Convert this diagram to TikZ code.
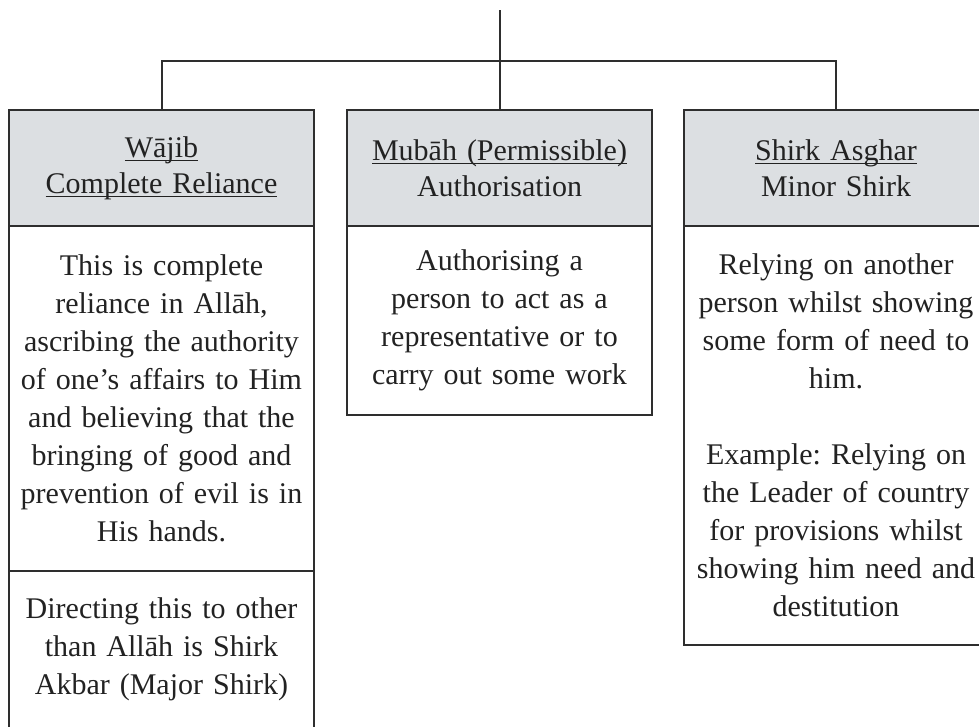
\documentclass[tikz,border=0pt]{standalone}
\usepackage{fontspec}
\setmainfont{Liberation Serif}
\usetikzlibrary{positioning}
\frenchspacing

\definecolor{boxline}{HTML}{2E2E2E}
\definecolor{headfill}{HTML}{DCDFE2}
\definecolor{inktext}{HTML}{222222}

% underline sitting just under the baseline
\newsavebox{\ulbox}
\newcommand{\ulabel}[1]{\leavevmode\sbox{\ulbox}{#1}\rlap{\rule[-4pt]{\wd\ulbox}{1.5pt}}\usebox{\ulbox}}

\begin{document}
\begin{tikzpicture}[x=1pt, y=-1pt,
    headbox/.style={draw=boxline, line width=2pt, fill=headfill, outer sep=0pt, inner sep=10pt,
        minimum width=305pt, minimum height=116pt, text width=285pt, align=center,
        text=inktext, font=\fontsize{30}{36}\selectfont},
    bodybox/.style={draw=boxline, line width=2pt, outer sep=0pt, inner sep=10pt,
        minimum width=305pt, text width=285pt, align=center,
        text=inktext, font=\fontsize{30}{38}\selectfont},
    link/.style={draw=boxline, line width=2pt}]
\useasboundingbox (0,0) rectangle (979,726);

% header row
\node[headbox] (wajibhead) at (161.5,168) {\ulabel{Wājib}\\ \ulabel{Complete Reliance}};
\node[headbox] (mubahhead) at (499.5,168) {\ulabel{Mubāh (Permissible)}\\ Authorisation};
\node[headbox] (shirkhead) at (836,168) {\ulabel{Shirk Asghar}\\ Minor Shirk};

% bodies
\node[bodybox, minimum height=345pt, below=0pt of wajibhead] (wajibbody) {This is complete\\ reliance in Allāh,\\ ascribing the authority\\ of one’s affairs to Him\\ and believing that the\\ bringing of good and\\ prevention of evil is in\\ His hands.};
\node[bodybox, minimum height=157pt, below=0pt of wajibbody] (wajibnote) {Directing this to other\\ than Allāh is Shirk\\ Akbar (Major Shirk)};
\node[bodybox, minimum height=189pt, below=0pt of mubahhead] (mubahbody) {Authorising a\\ person to act as a\\ representative or to\\ carry out some work};
\node[bodybox, minimum height=419pt, below=0pt of shirkhead] (shirkbody) {Relying on another\\ person whilst showing\\ some form of need to\\ him.\\[38pt] Example: Relying on\\ the Leader of country\\ for provisions whilst\\ showing him need and\\ destitution};

% tree lines
\coordinate (root) at (499.5,10);
\coordinate (fork) at (499.5,61);
\draw[link] (root) -- (mubahhead.north);
\draw[link] (wajibhead.north) |- (fork) -| (shirkhead.north);

\end{tikzpicture}
\end{document}
